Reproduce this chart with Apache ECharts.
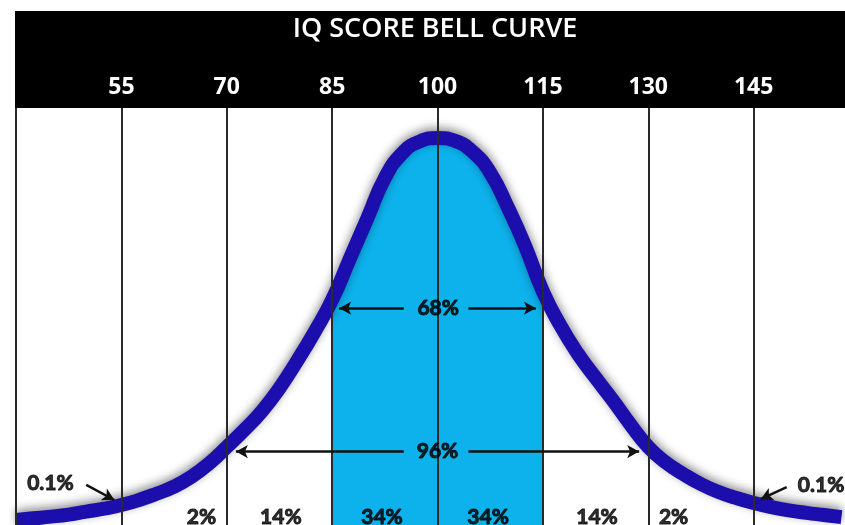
<!DOCTYPE html>
<html>
<head>
<meta charset="utf-8">
<script src="https://cdn.jsdelivr.net/npm/echarts@6/dist/echarts.min.js"></script>
<style>
html,body{margin:0;padding:0;background:#fff;}
#chart{width:845px;height:525px;}
</style>
</head>
<body>
<div id="chart"></div>
<script>
// IQ score axis (x) and relative curve height (y)
var iqScores = [40, 42.5, 45, 47.5, 50, 52.5, 55, 57.5, 60, 62.5, 65, 67.5, 70, 72.5, 75, 77.5, 80, 82.5, 85, 87.5, 90, 92.5, 95, 97.5, 100, 102.5, 105, 107.5, 110, 112.5, 115, 117.5, 120, 122.5, 125, 127.5, 130, 132.5, 135, 137.5, 140, 142.5, 145, 147.5, 150, 152.5, 155, 157.5];
var curveHeight = [1.2, 1.6, 2.0, 2.5, 3.2, 3.9, 4.8, 6.0, 7.5, 9.2, 11.6, 14.8, 18.7, 22.8, 27.3, 32.8, 39.3, 46.3, 54.0, 63.8, 73.5, 83.2, 89.2, 92.0, 92.8, 92.1, 89.5, 84.5, 76.2, 66.8, 56.0, 47.8, 41.0, 35.3, 29.8, 24.0, 18.7, 15.0, 12.2, 9.8, 7.9, 6.5, 5.3, 4.3, 3.5, 2.9, 2.4, 1.9];

// vertical reference lines and top tick labels
var gridLines = [40, 55, 70, 85, 100, 115, 130, 145];
var tickLabels = [55, 70, 85, 100, 115, 130, 145];

// shaded band (one standard deviation each side)
var bandStart = 85, bandEnd = 115;

// percentage annotations: [iq, height, text]
var bandLabels = [
  [44.9, 10.0, '0.1%'],
  [66.4, 1.9, '2%'],
  [77.7, 1.9, '14%'],
  [92.1, 1.9, '34%'],
  [107.2, 1.9, '34%'],
  [122.7, 1.9, '14%'],
  [133.6, 1.9, '2%'],
  [154.6, 9.6, '0.1%']
];
var rangeLabels = [
  [100.1, 52.0, '68%'],
  [100.0, 17.6, '96%']
];
// arrows: [fromIq, fromHeight, toIq, toHeight]
var arrows = [
  [50.0, 9.6, 54.0, 6.0],
  [149.7, 9.1, 146.0, 6.2],
  [95.2, 52.0, 86.0, 52.0],
  [104.4, 52.0, 114.0, 52.0],
  [95.2, 17.6, 71.3, 17.6],
  [104.4, 17.6, 128.7, 17.6]
];

var curveData = iqScores.map(function (x, i) { return [x, curveHeight[i]]; });
var bandData = curveData.filter(function (p) { return p[0] >= bandStart && p[0] <= bandEnd; });

var chart = echarts.init(document.getElementById('chart'));

chart.setOption({
  animation: false,
  backgroundColor: '#fff',
  title: {
    text: 'IQ SCORE BELL CURVE',
    left: 430,
    top: 11,
    textAlign: 'center',
    textStyle: { color: '#fff', fontFamily: 'Open Sans', fontWeight: 600, fontSize: 27 }
  },
  graphic: [{
    type: 'rect', z: -10,
    left: 15, top: 11,
    shape: { width: 830, height: 97 },
    style: { fill: '#000' }
  }],
  grid: { left: 16, right: 0, top: 108, bottom: 0 },
  xAxis: {
    type: 'value', min: 40, max: 158, position: 'top',
    axisLine: { show: false }, axisTick: { show: false }, splitLine: { show: false },
    axisLabel: {
      customValues: tickLabels,
      color: '#fff', fontFamily: 'Open Sans', fontWeight: 700, fontSize: 23, margin: 9
    }
  },
  yAxis: { type: 'value', min: 0, max: 100, show: false },
  series: [
    {
      type: 'line', data: [], z: 1, silent: true,
      markLine: {
        silent: true, symbol: 'none', label: { show: false },
        lineStyle: { color: '#2a2a2a', width: 2, type: 'solid' },
        data: gridLines.map(function (v) { return { xAxis: v }; })
      }
    },
    {
      type: 'line', data: bandData, z: 2, smooth: 0.5, showSymbol: false, silent: true,
      lineStyle: { width: 0 },
      areaStyle: { color: '#0db1ec', opacity: 1 }
    },
    {
      type: 'line', data: curveData, z: 3, smooth: 0.5, showSymbol: false, silent: true,
      lineStyle: { color: '#1b0eac', width: 14, shadowColor: 'rgba(0,0,0,0.45)', shadowBlur: 10, shadowOffsetY: -3 }
    },
    {
      type: 'scatter', z: 5, symbolSize: 0, silent: true,
      data: bandLabels.concat(rangeLabels),
      label: {
        show: true, position: 'inside',
        formatter: function (p) { return p.data[2]; },
        color: '#000', fontFamily: 'Lato', fontWeight: 'bold', fontSize: 21,
        textBorderColor: '#000', textBorderWidth: 1
      },
      markLine: {
        silent: true,
        symbol: ['none', 'arrow'], symbolSize: [10, 12],
        label: { show: false },
        lineStyle: { color: '#111', width: 2.5, type: 'solid' },
        data: arrows.map(function (a) {
          return [{ coord: [a[0], a[1]] }, { coord: [a[2], a[3]] }];
        })
      }
    }
  ]
});
</script>
</body>
</html>
